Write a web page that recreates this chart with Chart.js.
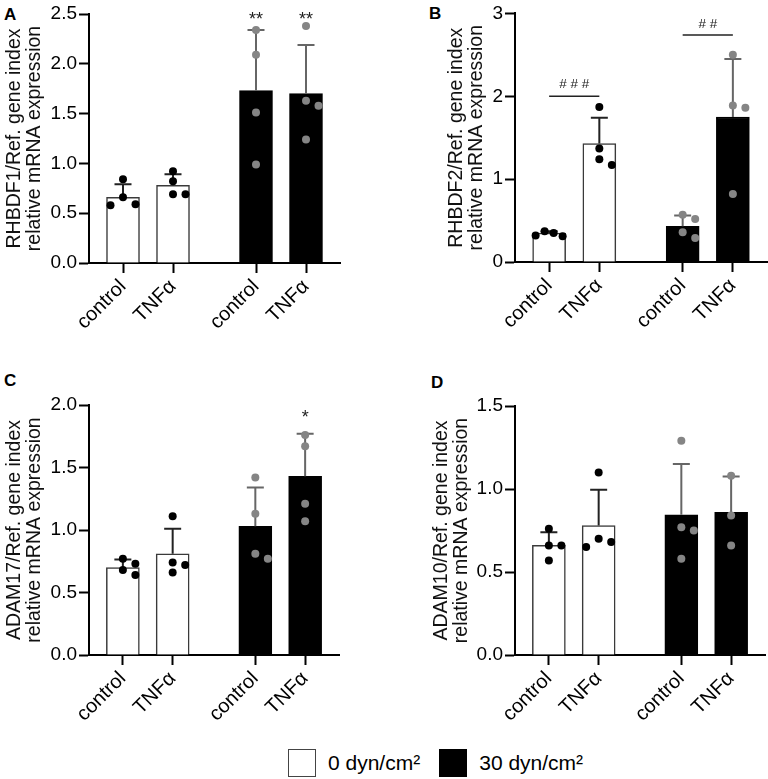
<!DOCTYPE html>
<html>
<head>
<meta charset="utf-8">
<script src="https://cdn.jsdelivr.net/npm/chart.js@4.4.1/dist/chart.umd.min.js"></script>
<style>
  html, body { margin: 0; padding: 0; background: #fff; }
  body { position: relative; width: 768px; height: 779px; overflow: hidden;
         font-family: 'Liberation Sans', Arial, sans-serif; }
  .panel { position: absolute; }
  .letter { position: absolute; font-weight: bold; font-size: 17px; color: #000; }
  #legend { position: absolute; left: 288px; top: 749px; display: flex; align-items: center;
            font-size: 21px; color: #000; }
  #legend .box { width: 28px; height: 28px; box-sizing: border-box; border: 1.5px solid #444; }
  #legend .lbl { margin-left: 12px; margin-right: 19px; }
</style>
</head>
<body>
<div class="letter" style="left:4px;top:5px">A</div>
<div class="letter" style="left:429px;top:4px">B</div>
<div class="letter" style="left:4px;top:371px">C</div>
<div class="letter" style="left:431px;top:373px">D</div>

<div class="panel" style="left:0;top:0;width:384px;height:345px"><canvas id="chartA"></canvas></div>
<div class="panel" style="left:442px;top:0;width:340px;height:345px"><canvas id="chartB"></canvas></div>
<div class="panel" style="left:0;top:360px;width:384px;height:375px"><canvas id="chartC"></canvas></div>
<div class="panel" style="left:427px;top:360px;width:355px;height:375px"><canvas id="chartD"></canvas></div>

<div id="legend"></div>

<script>
// categories on the x axis and which shear group each bar belongs to
const categories = ['control', 'TNFα', 'control', 'TNFα'];
const shearLabels = ['0 dyn/cm²', '30 dyn/cm²'];
const shearOfBar = [0, 0, 1, 1];

// A - RHBDF1
const rhbdf1Mean = [0.66, 0.78, 1.73, 1.70];
const rhbdf1SD = [0.13, 0.11, 0.61, 0.49];
const rhbdf1Points = [[0.58, 0.66, 0.59, 0.84], [0.69, 0.82, 0.92, 0.69], [2.34, 2.09, 1.51, 0.99], [2.38, 1.58, 1.63, 1.24]];
const rhbdf1Stars = ['', '', '**', '**'];
const rhbdf1StarY = 2.48;
const rhbdf1Ticks = ['0.0', '0.5', '1.0', '1.5', '2.0', '2.5'];

// B - RHBDF2
const rhbdf2Mean = [0.35, 1.43, 0.43, 1.75];
const rhbdf2SD = [0.02, 0.31, 0.13, 0.70];
const rhbdf2Points = [[0.31, 0.37, 0.32, 0.35], [1.87, 1.24, 1.37, 1.17], [0.57, 0.52, 0.29, 0.36], [2.50, 1.86, 1.89, 0.82]];
const rhbdf2Brackets = [
  { from: 0, to: 1, y: 2.0, text: '# # #', textY: 2.15 },
  { from: 2, to: 3, y: 2.74, text: '# #', textY: 2.88 }
];
const rhbdf2Ticks = ['0', '1', '2', '3'];

// C - ADAM17
const adam17Mean = [0.70, 0.81, 1.03, 1.43];
const adam17SD = [0.065, 0.20, 0.31, 0.34];
const adam17Points = [[0.64, 0.73, 0.77, 0.68], [0.66, 1.11, 0.74, 0.72], [1.42, 1.13, 0.77, 0.81], [1.76, 1.67, 1.21, 1.07]];
const adam17Stars = ['', '', '', '*'];
const adam17StarY = 1.93;
const adam17Ticks = ['0.0', '0.5', '1.0', '1.5', '2.0'];

// D - ADAM10
const adam10Mean = [0.66, 0.78, 0.845, 0.86];
const adam10SD = [0.08, 0.215, 0.305, 0.215];
const adam10Points = [[0.76, 0.66, 0.66, 0.57], [1.10, 0.65, 0.70, 0.68], [1.29, 0.77, 0.75, 0.58], [1.08, 0.84, 0.66]];
const adam10Ticks = ['0.0', '0.5', '1.0', '1.5'];

// layout: bars one unit apart, extra gap between the shear groups
const GROUP_GAP = 0.66;
const xPos = categories.map((c, i) => 1 + i + shearOfBar[i] * GROUP_GAP);
const STEP = 12.5;     // horizontal spacing of overlapping dots (px)
const MIN_DIST = 9;    // dots closer than this get pushed aside
const CAP = 8.5;       // half width of the error bar cap

Chart.defaults.font.family = "'Liberation Sans', Arial, sans-serif";
Chart.defaults.color = '#000';

// spread overlapping dots sideways, like a scatter dot plot
const swarmPlugin = {
  id: 'swarm',
  afterDatasetsUpdate(chart) {
    chart.data.datasets.forEach(function(ds, di) {
      if (ds.type !== 'scatter') return;
      const meta = chart.getDatasetMeta(di);
      const groups = {};
      meta.data.forEach(function(pt, k) {
        const g = ds.data[k].g;
        (groups[g] = groups[g] || []).push(pt);
      });
      Object.values(groups).forEach(function(pts) {
        const x0 = pts[0].x;
        const placed = [];
        pts.slice().sort((a, b) => a.y - b.y).forEach(function(pt) {
          for (const k of [0, 1, -1, 2, -2, 3, -3]) {
            const x = x0 + k * STEP;
            if (placed.every(q => Math.hypot(q.x - x, q.y - pt.y) >= MIN_DIST)) { pt.x = x; break; }
          }
          placed.push(pt);
        });
        const xs = placed.map(p => p.x);
        const lo = Math.min(...xs), hi = Math.max(...xs);
        if (hi - lo > 2 * STEP + 1) {
          const mid = (lo + hi) / 2, f = (2 * STEP + 2) / (hi - lo);
          placed.forEach(p => { p.x = x0 + (p.x - mid) * f; });
        }
      });
    });
  }
};

// upward SD bars drawn right after the bars, under the dots
const errorBarPlugin = {
  id: 'errorBars',
  afterDatasetDraw(chart, args) {
    const ds = chart.data.datasets[args.index];
    if (ds.type !== 'bar' || !ds.sd) return;
    const ctx = chart.ctx, x = chart.scales.x, y = chart.scales.y;
    ctx.save();
    ctx.lineWidth = 2;
    ds.data.forEach(function(d, i) {
      const px = x.getPixelForValue(d.x);
      const yMean = y.getPixelForValue(d.y);
      const yTop = y.getPixelForValue(d.y + ds.sd[i]);
      ctx.strokeStyle = ds.errorColor[i];
      ctx.beginPath();
      ctx.moveTo(px, yMean);
      ctx.lineTo(px, yTop);
      ctx.moveTo(px - CAP, yTop);
      ctx.lineTo(px + CAP, yTop);
      ctx.stroke();
    });
    ctx.restore();
  }
};

// significance marks
function drawCentered(ctx, text, px, py) {
  const m = ctx.measureText(text);
  const mid = (m.actualBoundingBoxAscent - m.actualBoundingBoxDescent) / 2;
  ctx.fillText(text, px, py + mid);
}

const sigPlugin = {
  id: 'sig',
  afterDatasetsDraw(chart, args, opts) {
    const ctx = chart.ctx, x = chart.scales.x, y = chart.scales.y;
    ctx.save();
    ctx.fillStyle = '#222';
    ctx.strokeStyle = '#222';
    ctx.textAlign = 'center';
    ctx.textBaseline = 'alphabetic';
    if (opts.stars) {
      ctx.font = "18px 'Liberation Sans', Arial, sans-serif";
      opts.stars.forEach(function(s, i) {
        if (s) drawCentered(ctx, s, x.getPixelForValue(xPos[i]), y.getPixelForValue(opts.starY));
      });
    }
    if (opts.brackets) {
      ctx.font = "13.5px 'Liberation Sans', Arial, sans-serif";
      ctx.lineWidth = 1.5;
      opts.brackets.forEach(function(b) {
        const x1 = x.getPixelForValue(xPos[b.from]), x2 = x.getPixelForValue(xPos[b.to]);
        const py = y.getPixelForValue(b.y);
        ctx.beginPath();
        ctx.moveTo(x1, py);
        ctx.lineTo(x2, py);
        ctx.stroke();
        drawCentered(ctx, b.text, (x1 + x2) / 2, y.getPixelForValue(b.textY));
      });
    }
    ctx.restore();
  }
};

function makePanel(id, L, d) {
  const barData = xPos.map((x, i) => ({ x: x, y: d.mean[i] }));
  const dotData = [];
  const dotColors = [];
  d.points.forEach(function(vals, i) {
    vals.forEach(function(v) {
      dotData.push({ x: xPos[i], y: v, g: i });
      dotColors.push(shearOfBar[i] ? '#858585' : '#000');
    });
  });
  const yTickVals = d.ticks.map(t => parseFloat(t));

  new Chart(document.getElementById(id), {
    type: 'bar',
    data: {
      datasets: [
        {
          type: 'bar',
          data: barData,
          backgroundColor: shearOfBar.map(s => s ? '#000' : '#fff'),
          borderColor: shearOfBar.map(s => s ? '#000' : '#3a3a3a'),
          borderWidth: 1.5,
          barThickness: 33,
          order: 2,
          sd: d.sd,
          errorColor: shearOfBar.map(s => s ? '#666' : '#222')
        },
        {
          type: 'scatter',
          data: dotData,
          pointRadius: 4,
          pointBorderWidth: 0,
          pointBackgroundColor: dotColors,
          pointBorderColor: dotColors,
          order: 1
        }
      ]
    },
    options: {
      responsive: true,
      maintainAspectRatio: false,
      animation: false,
      events: [],
      layout: { padding: { top: L.padTop, right: L.padRight, left: 0, bottom: 0 } },
      scales: {
        x: {
          type: 'linear',
          min: 0.32,
          max: 5.34,
          offset: false,
          afterBuildTicks: function(s) { s.ticks = xPos.map(v => ({ value: v })); },
          afterFit: function(s) { s.height = L.height - L.bottom; },
          grid: { offset: false, drawOnChartArea: false, drawTicks: true, tickLength: 10, tickWidth: 2, tickColor: '#000' },
          border: { display: true, color: '#000', width: 2 },
          ticks: {
            autoSkip: false, minRotation: 45, maxRotation: 45, padding: 2,
            color: '#000', font: { size: 20 },
            callback: (v, i) => categories[i]
          }
        },
        y: {
          min: 0,
          max: yTickVals[yTickVals.length - 1],
          afterBuildTicks: function(s) { s.ticks = yTickVals.map(v => ({ value: v })); },
          afterFit: function(s) { s.width = L.yWidth; },
          grid: { drawOnChartArea: false, drawTicks: true, tickLength: 10, tickWidth: 2, tickColor: '#000' },
          border: { display: true, color: '#000', width: 2 },
          ticks: { padding: 2, color: '#000', font: { size: 19 }, callback: (v, i) => d.ticks[i] },
          title: { display: true, text: d.title, color: '#111', font: { size: 19.5, lineHeight: 1.05 }, padding: { top: 4, bottom: 0 } }
        }
      },
      plugins: {
        legend: { display: false },
        tooltip: { enabled: false },
        sig: { stars: d.stars, starY: d.starY, brackets: d.brackets }
      }
    },
    plugins: [swarmPlugin, errorBarPlugin, sigPlugin]
  });
}

makePanel('chartA', { height: 345, bottom: 263, yWidth: 89, padTop: 14, padRight: 44 }, {
  mean: rhbdf1Mean, sd: rhbdf1SD, points: rhbdf1Points, ticks: rhbdf1Ticks,
  stars: rhbdf1Stars, starY: rhbdf1StarY,
  title: ['RHBDF1/Ref. gene index', 'relative mRNA expression']
});
makePanel('chartB', { height: 345, bottom: 262, yWidth: 73, padTop: 12, padRight: 15 }, {
  mean: rhbdf2Mean, sd: rhbdf2SD, points: rhbdf2Points, ticks: rhbdf2Ticks,
  brackets: rhbdf2Brackets,
  title: ['RHBDF2/Ref. gene index', 'relative mRNA expression']
});
makePanel('chartC', { height: 375, bottom: 295, yWidth: 89, padTop: 45, padRight: 45 }, {
  mean: adam17Mean, sd: adam17SD, points: adam17Points, ticks: adam17Ticks,
  stars: adam17Stars, starY: adam17StarY,
  title: ['ADAM17/Ref. gene index', 'relative mRNA expression']
});
makePanel('chartD', { height: 375, bottom: 295, yWidth: 88, padTop: 46, padRight: 17 }, {
  mean: adam10Mean, sd: adam10SD, points: adam10Points, ticks: adam10Ticks,
  title: ['ADAM10/Ref. gene index', 'relative mRNA expression']
});

// shared legend
const legend = document.getElementById('legend');
shearLabels.forEach(function(label, i) {
  const box = document.createElement('span');
  box.className = 'box';
  box.style.background = i ? '#000' : '#fff';
  if (i) box.style.borderColor = '#000';
  const txt = document.createElement('span');
  txt.className = 'lbl';
  txt.textContent = label;
  legend.appendChild(box);
  legend.appendChild(txt);
});
</script>
</body>
</html>
